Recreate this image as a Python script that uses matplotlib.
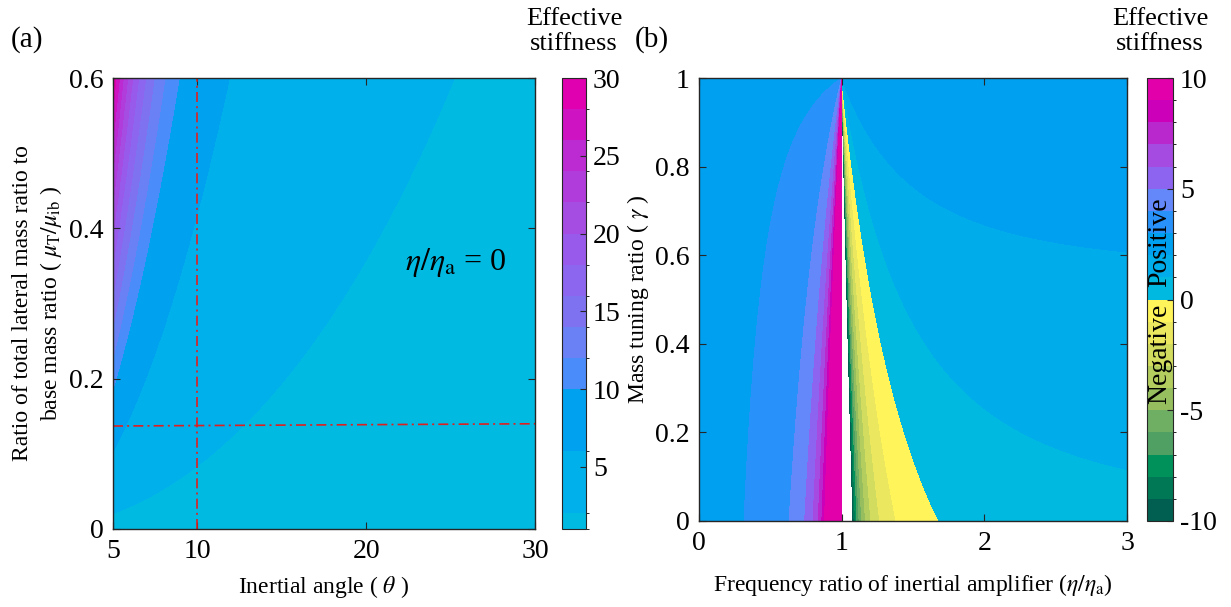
import numpy as np
import matplotlib
matplotlib.use('Agg')
import matplotlib.pyplot as plt
from matplotlib.colors import ListedColormap, BoundaryNorm

plt.rcParams['font.family'] = ['Liberation Serif', 'DejaVu Serif']
plt.rcParams['mathtext.fontset'] = 'stix'
plt.rcParams['axes.unicode_minus'] = False

# ---------------- panel (a): stiffness vs inertial angle and mass ratio
theta_range = [5, 30]          # degrees
mu_range = [0, 0.6]
gain_a = 0.37                  # k = 1 + gain_a * mu * cot^2(theta)
theta_ticks = [5, 10, 20, 30]
mu_ticks = [0, 0.2, 0.4, 0.6]
vline_theta = 10
hline_theta = [5, 30]
hline_mu = [0.137, 0.140]
levels_a = [1, 2, 6, 10, 12, 14, 16, 18, 20, 22, 24, 26, 28, 30]
colors_a = ['#00bae2', '#00b0ea', '#00a2f0', '#4a8cfa', '#6a80f5', '#7f72f0',
            '#8c66ee', '#985aea', '#a54ce3', '#b03cdc', '#bc2bd2', '#ce14c2', '#e100af']
cb_ticks_a = [5, 10, 15, 20, 25, 30]

# ---------------- panel (b): stiffness vs frequency ratio and tuning ratio
ratio_range = [0, 3]
gamma_range = [0, 1]
k_static_b = 2.8               # k = k0 + (1-gamma) * gain_b * r^2/(1-r^2)
gain_b = 1.81
ratio_ticks = [0, 1, 2, 3]
gamma_ticks = [0, 0.2, 0.4, 0.6, 0.8, 1]
levels_b = list(range(-10, 11))
colors_b = ['#005f50', '#007855', '#00915a', '#50a064', '#6eaf64', '#96be5f',
            '#b4cd5f', '#d2dc5f', '#ebe85f', '#fff55a',
            '#00b9e1', '#00acea', '#00a0f0', '#2891fa', '#6487fa', '#8c64f0',
            '#a54be1', '#b928cd', '#cd00b9', '#e100aa']
cb_ticks_b = [-10, -5, 0, 5, 10]

dark = '#262626'
fs_tick = 20
fs_label = 17

def style_axes(ax):
    ax.tick_params(direction='in', top=True, right=True, length=5, width=0.8,
                   color=dark, labelsize=fs_tick, pad=7)
    for s in ax.spines.values():
        s.set_color(dark)
        s.set_linewidth(1.0)

fig = plt.figure(figsize=(12.31, 6.07), dpi=100)

# ---- (a)
ax_a = fig.add_axes([113/1231, 78/607, 422/1231, 451/607])
th = np.linspace(theta_range[0], theta_range[1], 600)
mu = np.linspace(mu_range[0], mu_range[1], 500)
TH, MU = np.meshgrid(th, mu)
K_a = 1 + gain_a * MU / np.tan(np.radians(TH)) ** 2
cmap_a = ListedColormap(colors_a)
norm_a = BoundaryNorm(levels_a, cmap_a.N)
cf_a = ax_a.contourf(TH, MU, K_a, levels=levels_a, cmap=cmap_a, norm=norm_a)
ax_a.axvline(vline_theta, color='#e11e1e', lw=1.2, ls=(0, (6, 2.5, 1.2, 2.5)))
ax_a.plot(hline_theta, hline_mu, color='#e11e1e', lw=1.2, ls=(0, (6, 2.5, 1.2, 2.5)))
ax_a.set_xlim(theta_range)
ax_a.set_ylim(mu_range)
ax_a.set_xticks(theta_ticks)
ax_a.set_yticks(mu_ticks)
ax_a.set_yticklabels(['0', '0.2', '0.4', '0.6'])
style_axes(ax_a)
ax_a.set_xlabel(r'Inertial angle ( $\theta$ )', fontsize=fs_label, va='center')
ax_a.xaxis.set_label_coords(0.5, -0.129)
ax_a.set_ylabel('Ratio of total lateral mass ratio to\n'
                r'base mass ratio ( $\mu_{\mathrm{T}}/\mu_{\mathrm{ib}}$ )',
                fontsize=fs_label, va='center', linespacing=1.3)
ax_a.yaxis.set_label_coords(-0.178, 0.5)
ax_a.text(25.3, 0.355, r'$\eta/\eta_{\mathrm{a}}$ = 0', fontsize=23,
          ha='center', va='center')

cax_a = fig.add_axes([562/1231, 78/607, 24/1231, 451/607])
cb_a = fig.colorbar(cf_a, cax=cax_a, spacing='proportional', ticks=cb_ticks_a)
cb_a.ax.tick_params(direction='in', length=4, width=0.8, color=dark,
                    labelsize=fs_tick, pad=5)
cb_a.outline.set_edgecolor(dark)
fig.text(574/1231, 1 - 8/607, 'Effective\nstiffness', fontsize=19,
         ha='center', va='top', linespacing=1.15)
fig.text(27/1231, 1 - 40/607, '(a)', fontsize=21, ha='center', va='center')

# ---- (b)
ax_b = fig.add_axes([699/1231, 86/607, 428/1231, 443/607])
rr = np.linspace(ratio_range[0], ratio_range[1], 3600)
gg = np.linspace(gamma_range[0], gamma_range[1], 900)
RR, GG = np.meshgrid(rr, gg)
with np.errstate(divide='ignore', invalid='ignore'):
    K_b = k_static_b + (1 - GG) * gain_b * RR ** 2 / (1 - RR ** 2)
K_b = np.clip(K_b, -50, 10)
cmap_b = ListedColormap(colors_b)
norm_b = BoundaryNorm(levels_b, cmap_b.N)
cf_b = ax_b.contourf(RR, GG, K_b, levels=levels_b, cmap=cmap_b, norm=norm_b)
ax_b.set_xlim(ratio_range)
ax_b.set_ylim(gamma_range)
ax_b.set_xticks(ratio_ticks)
ax_b.set_yticks(gamma_ticks)
ax_b.set_yticklabels(['0', '0.2', '0.4', '0.6', '0.8', '1'])
style_axes(ax_b)
ax_b.set_xlabel(r'Frequency ratio of inertial amplifier ($\eta/\eta_{\mathrm{a}}$)',
                fontsize=fs_label, va='center')
ax_b.xaxis.set_label_coords(0.5, -0.144)
ax_b.set_ylabel(r'Mass tuning ratio ( $\gamma$ )', fontsize=fs_label, va='center')
ax_b.yaxis.set_label_coords(-0.1425, 0.5)

cax_b = fig.add_axes([1147/1231, 86/607, 26/1231, 443/607])
cb_b = fig.colorbar(cf_b, cax=cax_b, ticks=cb_ticks_b)
cb_b.ax.tick_params(direction='in', length=4, width=0.8, color=dark,
                    labelsize=fs_tick, pad=5)
cb_b.outline.set_edgecolor(dark)
tr = cb_b.ax.get_yaxis_transform()
cb_b.ax.text(0.5, 2.6, 'Positive', rotation=90, fontsize=20, ha='center',
             va='center', transform=tr)
cb_b.ax.text(0.5, -2.45, 'Negative', rotation=90, fontsize=20, ha='center',
             va='center', transform=tr)
fig.text(1160/1231, 1 - 8/607, 'Effective\nstiffness', fontsize=19,
         ha='center', va='top', linespacing=1.15)
fig.text(652/1231, 1 - 40/607, '(b)', fontsize=21, ha='center', va='center')

fig.savefig('out.png', dpi=100)
